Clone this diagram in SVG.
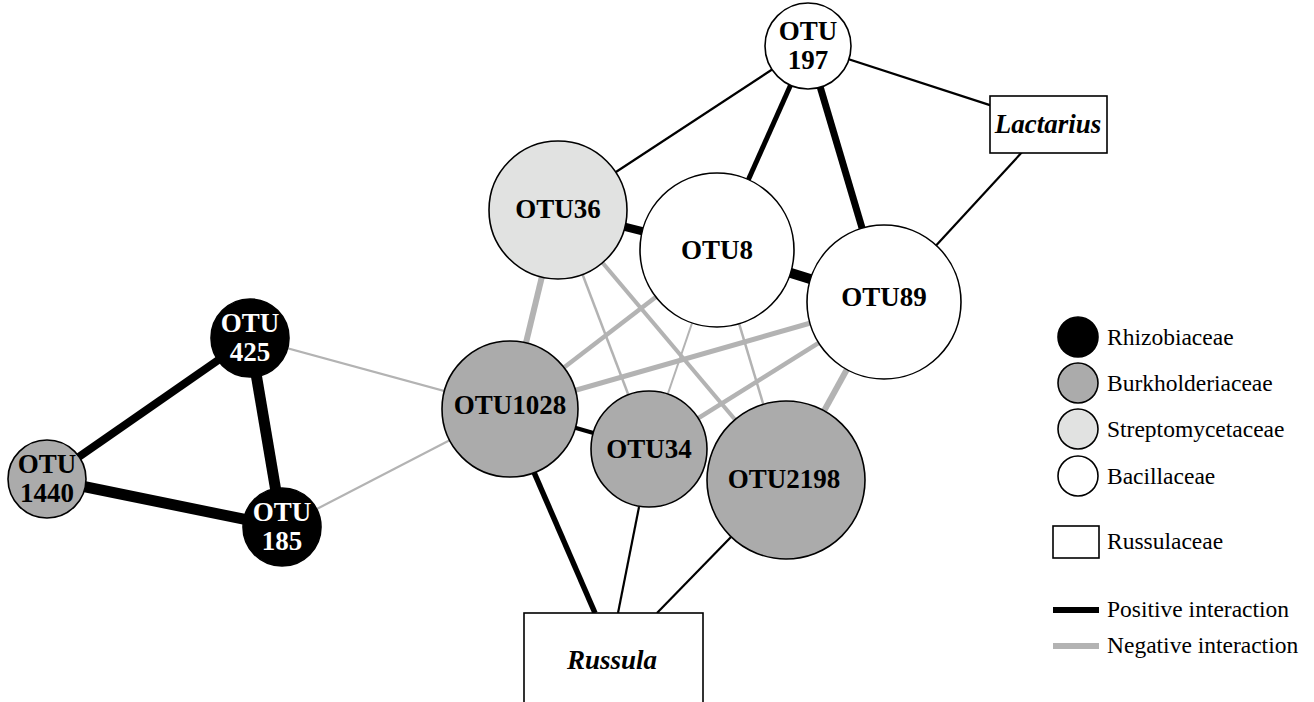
<svg xmlns="http://www.w3.org/2000/svg" width="1314" height="702" viewBox="0 0 1314 702">
<style>
.n{stroke:#000;stroke-width:1.6}
.rz{fill:#000}.bk{fill:#ababab}.st{fill:#e1e2e1}.bc{fill:#fff}
.lb{font-family:"Liberation Serif",serif;font-weight:bold;font-size:27px;text-anchor:middle;fill:#000}
.lw{fill:#fff}
.it{font-style:italic}
.lg{font-family:"Liberation Serif",serif;font-size:23.5px;fill:#000}
.p{stroke:#000;fill:none}
.g{stroke:#b3b3b3;fill:none}
</style>
<rect width="1314" height="702" fill="#fff"/>
<g id="connectors">
<line class="p" x1="808" y1="46" x2="558" y2="210" stroke-width="2.2"/>
<line class="p" x1="808" y1="46" x2="1048" y2="124" stroke-width="2.2"/>
<line class="p" x1="808" y1="46" x2="717" y2="250" stroke-width="5"/>
<line class="p" x1="808" y1="46" x2="884" y2="302" stroke-width="7"/>
<line class="p" x1="1048" y1="124" x2="884" y2="302" stroke-width="2.2"/>
<line class="p" x1="558" y1="210" x2="717" y2="250" stroke-width="8"/>
<line class="p" x1="717" y1="250" x2="884" y2="302" stroke-width="10"/>
<line class="p" x1="510" y1="409" x2="649" y2="449" stroke-width="4"/>
<line class="p" x1="533" y1="470" x2="595" y2="613" stroke-width="5.5"/>
<line class="p" x1="639" y1="507" x2="618" y2="613" stroke-width="2.2"/>
<line class="p" x1="731" y1="537" x2="657" y2="613" stroke-width="2.2"/>
<line class="p" x1="250" y1="338" x2="47" y2="479" stroke-width="8"/>
<line class="p" x1="250" y1="338" x2="282" y2="527" stroke-width="11"/>
<line class="p" x1="47" y1="479" x2="282" y2="527" stroke-width="11"/>
<line class="g" x1="250" y1="338" x2="510" y2="409" stroke-width="2.2"/>
<line class="g" x1="282" y1="527" x2="510" y2="409" stroke-width="2.2"/>
<line class="g" x1="558" y1="210" x2="510" y2="409" stroke-width="6"/>
<line class="g" x1="558" y1="210" x2="649" y2="449" stroke-width="2.5"/>
<line class="g" x1="558" y1="210" x2="786" y2="480" stroke-width="4"/>
<line class="g" x1="717" y1="250" x2="510" y2="409" stroke-width="4.5"/>
<line class="g" x1="717" y1="250" x2="649" y2="449" stroke-width="2"/>
<line class="g" x1="717" y1="250" x2="786" y2="480" stroke-width="2.5"/>
<line class="g" x1="884" y1="302" x2="510" y2="409" stroke-width="5"/>
<line class="g" x1="884" y1="302" x2="649" y2="449" stroke-width="4.5"/>
<line class="g" x1="884" y1="302" x2="786" y2="480" stroke-width="6"/>
</g>
<g id="OTU197"><circle class="n bc" cx="808" cy="46" r="43"/><text class="lb" x="808" y="40">OTU</text><text class="lb" x="808" y="69">197</text></g>
<g id="Lactarius"><rect class="n" fill="#fff" x="990" y="96" width="117" height="57"/><text class="lb it" x="1048" y="133">Lactarius</text></g>
<g id="OTU36"><circle class="n st" cx="558" cy="210" r="69"/><text class="lb" x="558" y="218">OTU36</text></g>
<g id="OTU8"><circle class="n bc" cx="717" cy="250" r="77"/><text class="lb" x="717" y="259">OTU8</text></g>
<g id="OTU89"><circle class="n bc" cx="884" cy="302" r="77"/><text class="lb" x="884" y="306">OTU89</text></g>
<g id="OTU1028"><circle class="n bk" cx="510" cy="409" r="68"/><text class="lb" x="510" y="414">OTU1028</text></g>
<g id="OTU34"><circle class="n bk" cx="649" cy="449" r="58"/><text class="lb" x="649" y="458">OTU34</text></g>
<g id="OTU2198"><circle class="n bk" cx="786" cy="480" r="79"/><text class="lb" x="784" y="488">OTU2198</text></g>
<g id="OTU425"><circle class="n rz" cx="250" cy="338" r="39"/><text class="lb lw" x="250" y="332">OTU</text><text class="lb lw" x="250" y="361">425</text></g>
<g id="OTU1440"><circle class="n bk" cx="47" cy="479" r="39"/><text class="lb" x="47" y="473">OTU</text><text class="lb" x="47" y="502">1440</text></g>
<g id="OTU185"><circle class="n rz" cx="282" cy="527" r="39"/><text class="lb lw" x="282" y="521">OTU</text><text class="lb lw" x="282" y="550">185</text></g>
<g id="Russula"><rect class="n" fill="#fff" x="524" y="613" width="179" height="95"/><text class="lb it" x="612" y="669">Russula</text></g>
<g id="legend">
<circle class="n rz" cx="1078" cy="337" r="20"/><text class="lg" x="1107" y="345">Rhizobiaceae</text>
<circle class="n bk" cx="1078" cy="383" r="20"/><text class="lg" x="1107" y="391">Burkholderiaceae</text>
<circle class="n st" cx="1078" cy="429" r="20"/><text class="lg" x="1107" y="437">Streptomycetaceae</text>
<circle class="n bc" cx="1078" cy="476" r="20"/><text class="lg" x="1107" y="484">Bacillaceae</text>
<rect class="n" fill="#fff" x="1053" y="526" width="46" height="32"/><text class="lg" x="1107" y="549">Russulaceae</text>
<line class="p" x1="1053" y1="610" x2="1099" y2="610" stroke-width="6"/><text class="lg" x="1107" y="617">Positive interaction</text>
<line class="g" x1="1053" y1="646" x2="1099" y2="646" stroke-width="6"/><text class="lg" x="1107" y="653">Negative interaction</text>
</g>
</svg>
